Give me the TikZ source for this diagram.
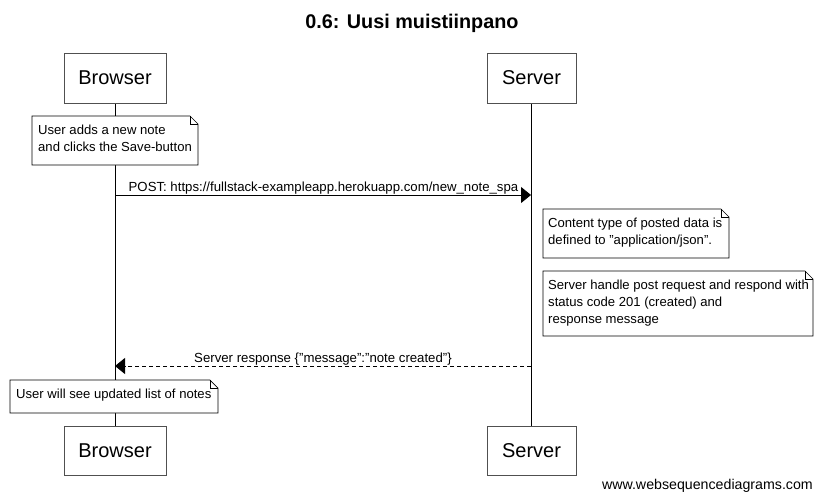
\documentclass[tikz,border=0pt]{standalone}
\usepackage{fontspec}
\setmainfont{Liberation Sans}
\usetikzlibrary{arrows.meta,positioning}
\definecolor{boxgray}{RGB}{80,80,80}
\newcommand{\dq}{\symbol{34}}
\tikzset{
  actor/.style={draw=boxgray, line width=0.9pt, fill=white, font=\fontsize{20}{24}\selectfont, inner sep=0pt, anchor=north west},
  notetext/.style={align=left, font=\fontsize{13.1}{17}\selectfont, inner sep=0pt, anchor=north west},
  notebox/.style={draw=black, line width=0.7pt, fill=white},
  lifeline/.style={draw=black, line width=0.8pt},
  msg/.style={draw=black, line width=0.8pt, -{Triangle[length=10pt,width=16pt]}},
  msglabel/.style={font=\fontsize{13.2}{15}\selectfont, inner sep=0pt, anchor=base},
}
\newcommand{\foldnote}[5]{% name, x1, y1, x2, y2
  \path[notebox] (#2,#3) -- (#4-8,#3) -- (#4,#3+8) -- (#4,#5) -- (#2,#5) -- cycle;
  \draw[line width=0.5pt] (#4-8,#3) -- (#4-8,#3+8) -- (#4,#3+8);
  \coordinate (#1) at (#2,#3);
}
\begin{document}
\begin{tikzpicture}[x=1pt,y=-1pt]
\useasboundingbox (0,0) rectangle (822,499);
\fill[white] (0,0) rectangle (822,499);

% title
\node[font=\bfseries\fontsize{19.8}{24}\selectfont, anchor=base] (title) at (412,28) {0.6: Uusi muistiinpano};

% lifelines
\coordinate (bTop) at (115,103);
\coordinate (bBot) at (115,426);
\coordinate (sTop) at (531,103);
\coordinate (sBot) at (531,426);
\draw[lifeline] (bTop) -- (bBot);
\draw[lifeline] (sTop) -- (sBot);

% actors top
\path[actor] (64,53) rectangle (166,103);
\node[font=\fontsize{20}{24}\selectfont] (browserTop) at (115,78) {Browser};
\path[actor] (487,53) rectangle (576,103);
\node[font=\fontsize{20}{24}\selectfont] (serverTop) at (531.5,78) {Server};

% actors bottom
\path[actor] (64,426) rectangle (166,475);
\node[font=\fontsize{20}{24}\selectfont] (browserBot) at (115,451) {Browser};
\path[actor] (487,426) rectangle (576,475);
\node[font=\fontsize{20}{24}\selectfont] (serverBot) at (531.5,451) {Server};

% note 1
\foldnote{n1}{32}{116}{198}{165}
\node[notetext] (n1t) at (38,125) {User adds a new note\\and clicks the Save-button};

% message 1
\coordinate (m1s) at (115,195);
\coordinate (m1e) at (531,195);
\draw[msg] (m1s) -- (m1e);
\node[msglabel] (m1l) at (323.5,191) {POST: https://fullstack-exampleapp.herokuapp.com/new\_note\_spa};

% note 2
\foldnote{n2}{543}{209}{729}{258}
\node[notetext] (n2t) at (548,218) {Content type of posted data is\\defined to \dq application/json\dq.};

% note 3
\foldnote{n3}{543}{271}{813}{336}
\node[notetext] (n3t) at (548,280) {Server handle post request and respond with\\status code 201 (created) and\\response message};

% message 2
\coordinate (m2s) at (531,366);
\coordinate (m2e) at (115,366);
\draw[msg, dash pattern=on 4pt off 3pt] (m2s) -- (m2e);
\node[msglabel] (m2l) at (323,362) {Server response \{\dq message\dq:\dq note created\dq\}};

% note 4
\foldnote{n4}{10}{380}{218}{413}
\node[notetext] (n4t) at (16,389) {User will see updated list of notes};

% footer
\node[font=\fontsize{14.2}{16}\selectfont, anchor=base east, inner sep=0pt] (footer) at (813,489) {www.websequencediagrams.com};
\end{tikzpicture}
\end{document}
